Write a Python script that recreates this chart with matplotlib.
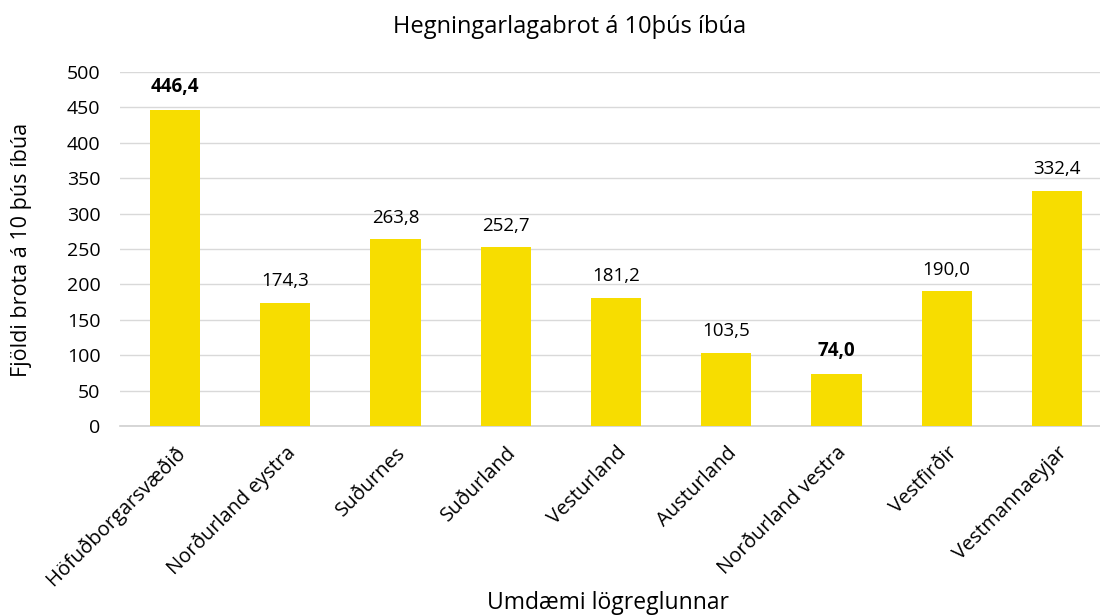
import matplotlib
matplotlib.use("Agg")
import matplotlib.pyplot as plt

categories = ["Höfuðborgarsvæðið", "Norðurland eystra", "Suðurnes", "Suðurland",
              "Vesturland", "Austurland", "Norðurland vestra", "Vestfirðir", "Vestmannaeyjar"]
values = [446.4, 174.3, 263.8, 252.7, 181.2, 103.5, 74.0, 190.0, 332.4]
value_labels = ["446,4", "174,3", "263,8", "252,7", "181,2", "103,5", "74,0", "190,0", "332,4"]
yticks = [0, 50, 100, 150, 200, 250, 300, 350, 400, 450, 500]

title = "Hegningarlagabrot á 10þús íbúa"
ylabel = "Fjöldi brota á 10 þús íbúa"
xlabel = "Umdæmi lögreglunnar"

plt.rcParams['font.family'] = ['Open Sans', 'DejaVu Sans']

fig = plt.figure(figsize=(11, 6.16), dpi=100)
ax = fig.add_axes([120/1100, 190/616, 992/1100, 354/616])

x = list(range(len(categories)))
ax.bar(x, values, width=0.455, color="#F7DD00", zorder=3)
ax.set_xlim(-0.5, len(categories) - 0.5)
ax.set_ylim(0, 500)
ax.set_yticks(yticks)
ax.set_yticklabels([str(t) for t in yticks], fontsize=14)
ax.yaxis.grid(True, color="#D9D9D9", linewidth=1, zorder=0)
ax.set_axisbelow(True)
for s in ["top", "right", "left"]:
    ax.spines[s].set_visible(False)
ax.spines["bottom"].set_color("#D0D0D0")
ax.spines["bottom"].set_linewidth(1.2)
ax.tick_params(axis="both", length=0, colors="#000000")
ax.tick_params(axis="y", pad=14)

ax.set_xticks(x)
ax.set_xticklabels(categories, rotation=45, ha="right", rotation_mode="anchor", fontsize=14.5)
ax.tick_params(axis="x", pad=12)

vmax = max(values)
vmin = min(values)
for xi, v, lab in zip(x, values, value_labels):
    bold = v == vmax or v == vmin
    ax.annotate(lab, (xi, v), xytext=(0, 9), textcoords="offset points",
                ha="center", va="bottom", fontsize=13.5,
                fontweight="bold" if bold else "normal")

fig.text(570/1100, 1 - 27/616, title, ha="center", va="center", fontsize=17)
fig.text(22/1100, 1 - 250/616, ylabel, ha="center", va="center", rotation=90, fontsize=15.5)
fig.text(608/1100, 1 - 603/616, xlabel, ha="center", va="center", fontsize=16.5)

fig.savefig("out.png", dpi=100)
